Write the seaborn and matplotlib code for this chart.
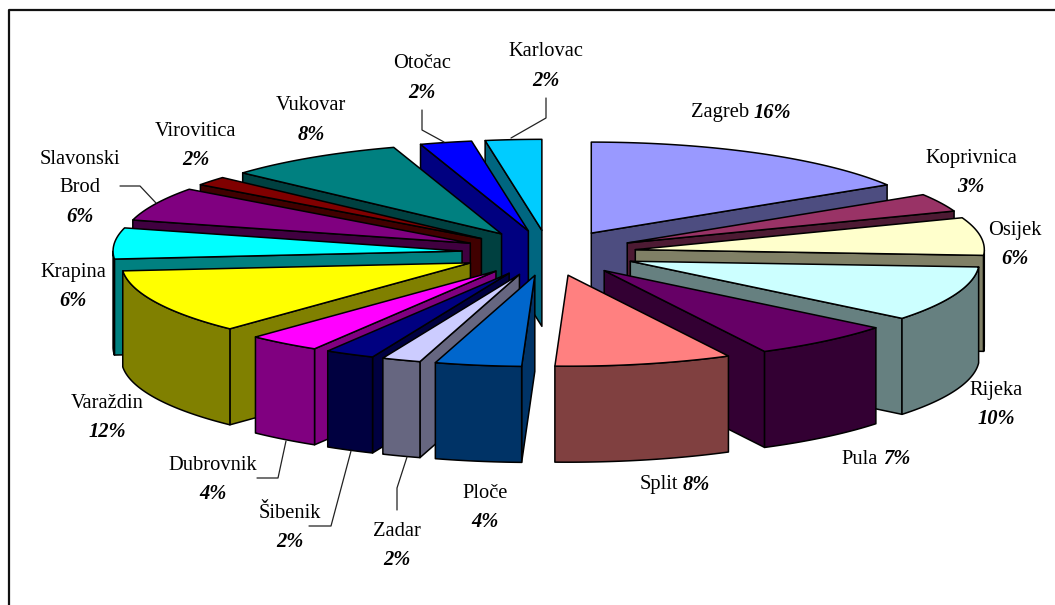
import numpy as np
import matplotlib
matplotlib.use("Agg")
import matplotlib.pyplot as plt
from matplotlib.colors import to_rgb
import seaborn as sns

# Data (shares; labels show the printed percentages)
cities = ["Zagreb", "Koprivnica", "Osijek", "Rijeka", "Pula", "Split", "Ploče", "Zadar",
          "Šibenik", "Dubrovnik", "Varaždin", "Krapina", "Slavonski\nBrod", "Virovitica",
          "Vukovar", "Otočac", "Karlovac"]
shares = [16.1, 3.2, 6.7, 9.8, 6.6, 8.2, 4.0, 1.8, 2.3, 3.4, 11.5, 5.5, 6.0, 1.6, 8.3, 2.4, 2.6]
printed = ["16%", "3%", "6%", "10%", "7%", "8%", "4%", "2%", "2%", "4%", "12%", "6%", "6%",
           "2%", "8%", "2%", "2%"]
top_colors = ["#9999FF", "#993366", "#FFFFCC", "#CCFFFF", "#660066", "#FF8080", "#0066CC",
              "#CCCCFF", "#000080", "#FF00FF", "#FFFF00", "#00FFFF", "#800080", "#800000",
              "#008080", "#0000FF", "#00CCFF"]

# label anchor (centre x, first-line centre y, inline?)
label_pos = {
    "Zagreb": (755, 113, True), "Koprivnica": (971, 158, False), "Osijek": (1015, 230, False),
    "Rijeka": (996, 390, False), "Pula": (884, 459, True), "Split": (684, 485, True),
    "Ploče": (485, 493, False), "Zadar": (397, 531, False), "Šibenik": (290, 513, False),
    "Dubrovnik": (213, 465, False), "Varaždin": (107, 403, False), "Krapina": (73, 272, False),
    "Slavonski\nBrod": (80, 159, False), "Virovitica": (196, 131, False), "Vukovar": (311, 106, False),
    "Otočac": (422, 64, False), "Karlovac": (546, 52, False),
}
leaders = [
    [(422, 110), (422, 130), (444, 142)],
    [(546, 98), (546, 118), (511, 138)],
    [(120, 186), (140, 186), (156, 203)],
    [(257, 478), (278, 478), (286, 441)],
    [(309, 526), (331, 526), (351, 451)],
    [(397, 510), (397, 488), (407, 457)],
]

# Geometry of the projected pie
CX, CY, RX, RY, EXPLODE, DEPTH = 549, 253, 349, 91, 0.25, 96

sns.set_theme(style="white", rc={"axes.edgecolor": "black"})
palette = sns.color_palette(top_colors)
fig, ax = plt.subplots(figsize=(10.55, 6.05), dpi=100)
ax.set_position([0, 0, 1, 1])
ax.set_xlim(0, 1055)
ax.set_ylim(605, 0)
ax.axis("off")

ax.plot([8.5, 8.5, 1055], [605, 10, 10], color="#111111", lw=1.6, zorder=1)

edges = np.cumsum([0] + shares) / np.sum(shares) * 2 * np.pi
order = sorted(range(len(shares)), key=lambda i: -np.cos((edges[i] + edges[i + 1]) / 2))

z = 2
for i in order:
    a, b = edges[i], edges[i + 1]
    mid = (a + b) / 2
    ox = CX + EXPLODE * RX * np.sin(mid)
    oy = CY - EXPLODE * RY * np.cos(mid)
    col = np.array(to_rgb(palette[i]))
    dark = tuple(col * 0.5)
    kw = dict(edgecolor="black", linewidth=1.1, joinstyle="round")
    t = np.linspace(a, b, 60)
    x = ox + RX * np.sin(t)
    y = oy - RY * np.cos(t)
    # radial walls facing the viewer
    if np.sin(a) < 0:
        ax.fill([ox, x[0], x[0], ox], [oy, y[0], y[0] + DEPTH, oy + DEPTH], facecolor=dark, zorder=z, **kw)
    if np.sin(b) > 0:
        ax.fill([ox, x[-1], x[-1], ox], [oy, y[-1], y[-1] + DEPTH, oy + DEPTH], facecolor=dark, zorder=z, **kw)
    # outer wall, front half only
    front = np.cos(t) < 0
    if front.sum() > 1:
        xf, yf = x[front], y[front]
        ax.fill(np.r_[xf, xf[::-1]], np.r_[yf, yf[::-1] + DEPTH], facecolor=dark, zorder=z, **kw)
    # top face
    ax.fill(np.r_[ox, x], np.r_[oy, y], facecolor=tuple(col), zorder=z, **kw)
    z += 1

for line in leaders:
    xs, ys = zip(*line)
    ax.plot(xs, ys, color="#222222", lw=0.9, zorder=50)

serif = ["Liberation Serif", "DejaVu Serif"]
FS = 14.8
LH = 29
for name, pct in zip(cities, printed):
    cx, cy, inline = label_pos[name]
    if inline:
        ax.text(cx - 6, cy, name, ha="right", va="center", family=serif, fontsize=FS, color="black", zorder=60)
        ax.text(cx - 1, cy, pct, ha="left", va="center", family=serif, fontsize=FS, fontweight="bold",
                fontstyle="italic", color="black", zorder=60)
    else:
        parts = name.split("\n")
        for k, p in enumerate(parts):
            ax.text(cx, cy + k * LH, p, ha="center", va="center", family=serif, fontsize=FS, color="black", zorder=60)
        ax.text(cx, cy + len(parts) * LH, pct, ha="center", va="center", family=serif, fontsize=FS,
                fontweight="bold", fontstyle="italic", color="black", zorder=60)

fig.savefig("out.png", dpi=100, facecolor="white")
